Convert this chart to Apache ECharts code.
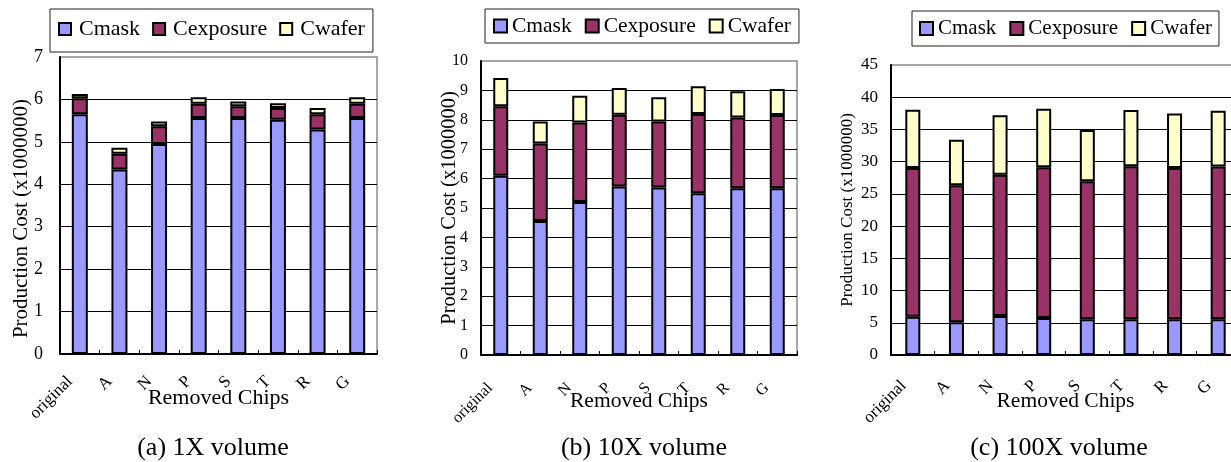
<!DOCTYPE html>
<html>
<head>
<meta charset="utf-8">
<title>Production Cost by Removed Chips</title>
<script src="https://cdn.jsdelivr.net/npm/echarts@6/dist/echarts.min.js"></script>
<style>
  html, body { margin: 0; padding: 0; background: #fff; }
  #chart { width: 1231px; height: 462px; }
</style>
</head>
<body>
<div id="chart"></div>
<script>
// Removed chips (x categories)
const categories = ['original', 'A', 'N', 'P', 'S', 'T', 'R', 'G'];
const seriesNames = ['Cmask', 'Cexposure', 'Cwafer'];

// (a) 1X volume, production cost in units of 100000
const mask1X     = [5.65, 4.35, 4.95, 5.56, 5.56, 5.52, 5.29, 5.56];
const exposure1X = [0.38, 0.37, 0.42, 0.34, 0.28, 0.28, 0.36, 0.34];
const wafer1X    = [0.10, 0.14, 0.11, 0.15, 0.11, 0.11, 0.15, 0.15];

// (b) 10X volume
const mask10X     = [6.10, 4.56, 5.20, 5.73, 5.70, 5.50, 5.67, 5.67];
const exposure10X = [2.36, 2.63, 2.71, 2.44, 2.24, 2.70, 2.41, 2.49];
const wafer10X    = [0.96, 0.75, 0.91, 0.91, 0.83, 0.94, 0.89, 0.89];

// (c) 100X volume
const mask100X     = [5.95, 5.07, 6.06, 5.75, 5.54, 5.54, 5.54, 5.54];
const exposure100X = [23.05, 21.28, 21.90, 23.40, 21.43, 23.76, 23.46, 23.70];
const wafer100X    = [9.05, 7.05, 9.25, 9.05, 7.93, 8.70, 8.47, 8.65];

// Value axis ranges
const yMax = [7, 10, 45];
const yStep = [1, 1, 5];

const captions = ['(a) 1X volume', '(b) 10X volume', '(c) 100X volume'];
const yAxisTitle = 'Production Cost (x1000000)';
const xAxisTitle = 'Removed Chips';

const FONT = "'Liberation Serif', 'Times New Roman', serif";
const colors = ['#9999FF', '#993366', '#FFFFCC'];

const panelData = [
  [mask1X, exposure1X, wafer1X],
  [mask10X, exposure10X, wafer10X],
  [mask100X, exposure100X, wafer100X]
];

// Layout of the three panels
const layout = [
  {
    grid: { left: 60, top: 57, width: 317, height: 297 },
    barWidth: 16,
    yLabelSize: 18, yLabelMargin: 17,
    yNameSize: 21, yNameGap: 28, yNamePad: [0, 26, 0, 0],
    xLabelSize: 17, xLabelMargin: 15, xLabelPad: [0, 14, 0, 0],
    xNameGap: 33, xNameSize: 22,
    legend: { left: 50, top: 9, padding: [9, 8, 12, 8], itemSize: 12, itemGap: 12, fontSize: 22, textPad: [0, 0, 0, 3] },
    caption: { x: 213, y: 448 }
  },
  {
    grid: { left: 481, top: 61, width: 316, height: 294 },
    barWidth: 15,
    yLabelSize: 16, yLabelMargin: 13,
    yNameSize: 20.5, yNameGap: 21, yNamePad: [0, 0, 0, 0],
    xLabelSize: 16, xLabelMargin: 20, xLabelPad: [0, 15, 0, 0],
    xNameGap: 35, xNameSize: 21.5,
    legend: { left: 485, top: 9, padding: [6, 8, 6, 8], itemSize: 13, itemGap: 13, fontSize: 21.5, textPad: [0, 0, 0, 0] },
    caption: { x: 644, y: 448 }
  },
  {
    grid: { left: 891, top: 65, width: 349, height: 290 },
    barWidth: 15,
    yLabelSize: 17, yLabelMargin: 13,
    yNameSize: 17, yNameGap: 35, yNamePad: [0, 0, 0, 0],
    xLabelSize: 17, xLabelMargin: 19, xLabelPad: [0, 13, 0, 0],
    xNameGap: 35, xNameSize: 21.5,
    legend: { left: 912, top: 11, padding: [6.5, 7, 6.5, 7], itemSize: 13, itemGap: 13, fontSize: 21, textPad: [0, 0, 0, 0] },
    caption: { x: 1059, y: 448 }
  }
];

const grids = [], xAxes = [], yAxes = [], legends = [], series = [], graphics = [];

layout.forEach((L, p) => {
  grids.push(Object.assign({
    show: true,
    borderColor: '#8a8a8a',
    borderWidth: 1.5,
    backgroundColor: 'transparent',
    containLabel: false,
    outerBoundsMode: 'none'
  }, L.grid));

  xAxes.push({
    type: 'category',
    gridIndex: p,
    data: categories,
    name: xAxisTitle,
    nameLocation: 'middle',
    nameGap: L.xNameGap,
    nameMoveOverlap: false,
    nameTextStyle: { fontFamily: FONT, fontSize: L.xNameSize, color: '#000' },
    axisLine: { show: true, lineStyle: { color: '#000', width: 2 } },
    axisTick: { show: true, inside: true, length: 4, lineStyle: { color: '#000', width: 1 } },
    axisLabel: {
      rotate: 45,
      interval: 0,
      margin: L.xLabelMargin,
      fontFamily: FONT,
      fontSize: L.xLabelSize,
      color: '#000',
      padding: L.xLabelPad
    },
    splitLine: { show: false }
  });

  yAxes.push({
    type: 'value',
    gridIndex: p,
    min: 0,
    max: yMax[p],
    interval: yStep[p],
    name: yAxisTitle,
    nameLocation: 'middle',
    nameRotate: 90,
    nameGap: L.yNameGap,
    nameMoveOverlap: false,
    nameTextStyle: { fontFamily: FONT, fontSize: L.yNameSize, color: '#000', padding: L.yNamePad },
    axisLine: { show: true, lineStyle: { color: '#000', width: 2 } },
    axisTick: { show: false },
    axisLabel: { fontFamily: FONT, fontSize: L.yLabelSize, color: '#000', margin: L.yLabelMargin },
    splitLine: { show: true, showMaxLine: false, lineStyle: { color: '#000', width: 1 } }
  });

  const lg = L.legend;
  legends.push({
    data: seriesNames,
    orient: 'horizontal',
    left: lg.left,
    top: lg.top,
    padding: lg.padding,
    itemWidth: lg.itemSize,
    itemHeight: lg.itemSize,
    itemGap: lg.itemGap,
    icon: 'rect',
    borderColor: '#222',
    borderWidth: 1,
    backgroundColor: '#fff',
    selectedMode: false,
    textStyle: {
      fontFamily: FONT,
      fontSize: lg.fontSize,
      lineHeight: 22,
      color: '#000',
      padding: lg.textPad
    }
  });

  seriesNames.forEach((name, s) => {
    series.push({
      name: name,
      type: 'bar',
      xAxisIndex: p,
      yAxisIndex: p,
      stack: 'panel' + p,
      barWidth: L.barWidth,
      data: panelData[p][s],
      itemStyle: { color: colors[s], borderColor: '#000', borderWidth: 2 },
      emphasis: { disabled: true }
    });
  });

  graphics.push({
    type: 'text',
    x: L.caption.x,
    y: L.caption.y,
    style: {
      text: captions[p],
      fontFamily: FONT,
      fontSize: 26,
      fill: '#000',
      align: 'center',
      verticalAlign: 'middle'
    }
  });
});

const chart = echarts.init(document.getElementById('chart'), null, { renderer: 'canvas' });
chart.setOption({
  animation: false,
  backgroundColor: '#fff',
  grid: grids,
  xAxis: xAxes,
  yAxis: yAxes,
  legend: legends,
  series: series,
  graphic: graphics
});
</script>
</body>
</html>
